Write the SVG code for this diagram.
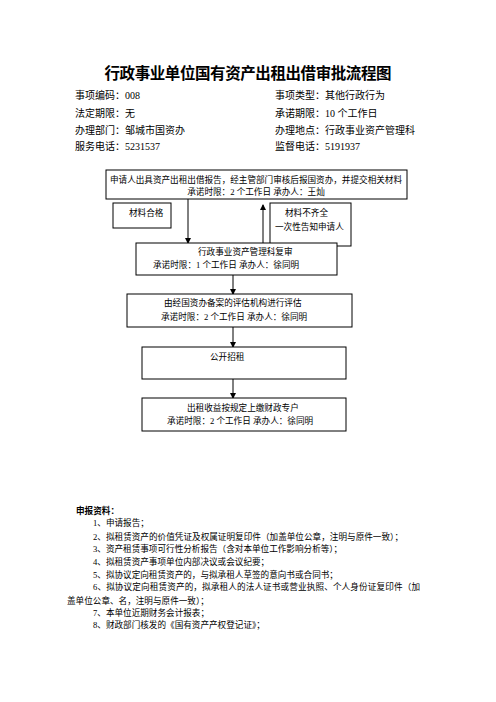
<svg xmlns="http://www.w3.org/2000/svg" width="496" height="702" viewBox="0 0 496 702">
<style>
text{font-family:"Liberation Serif","Noto Sans CJK SC",serif;fill:#000}
.t{font-size:15.5px;font-weight:bold}
.h{font-size:10px}
.b{font-size:8.6px}
.box{fill:#fff;stroke:#000;stroke-width:1}
.ln{stroke:#000;stroke-width:1;fill:none}
</style>
<defs>
<marker id="ah" markerWidth="6" markerHeight="6" refX="5" refY="3" orient="auto" markerUnits="userSpaceOnUse">
<path d="M0,0 L6,3 L0,6 Z" fill="#000"/>
</marker>
</defs>
<rect width="496" height="702" fill="#fff"/>
<g id="header">
<text class="t" x="248" y="79" text-anchor="middle" textLength="287">行政事业单位国有资产出租出借审批流程图</text>
<text class="h" x="75" y="99">事项编码：008</text>
<text class="h" x="275" y="99">事项类型：其他行政行为</text>
<text class="h" x="75" y="117">法定期限：无</text>
<text class="h" x="275" y="117">承诺期限：10 个工作日</text>
<text class="h" x="75" y="134">办理部门：邹城市国资办</text>
<text class="h" x="275" y="134">办理地点：行政事业资产管理科</text>
<text class="h" x="75" y="150">服务电话：5231537</text>
<text class="h" x="275" y="150">监督电话：5191937</text>
</g>
<g id="connectors">
<line class="ln" x1="188" y1="199" x2="188" y2="243" marker-end="url(#ah)"/>
<line class="ln" x1="263" y1="243" x2="263" y2="205" marker-end="url(#ah)"/>
<line class="ln" x1="233" y1="275" x2="233" y2="294" marker-end="url(#ah)"/>
<line class="ln" x1="233" y1="327" x2="233" y2="347" marker-end="url(#ah)"/>
<line class="ln" x1="233" y1="379" x2="233" y2="398" marker-end="url(#ah)"/>
</g>
<g id="n1">
<rect class="box" x="106" y="170" width="301" height="29"/>
<text class="b" x="256" y="183" text-anchor="middle" textLength="292">申请人出具资产出租出借报告，经主管部门审核后报国资办，并提交相关材料</text>
<text class="b" x="256" y="195" text-anchor="middle">承诺时限：2 个工作日  承办人：王灿</text>
</g>
<g id="n_ok">
<rect class="box" x="113" y="203" width="58" height="25"/>
<text class="b" x="129" y="216">材料合格</text>
</g>
<g id="n_bad">
<rect class="box" x="270" y="203" width="81" height="43"/>
<text class="b" x="285" y="216">材料不齐全</text>
<text class="b" x="275" y="230">一次性告知申请人</text>
</g>
<g id="n2">
<rect class="box" x="136" y="243" width="201" height="32"/>
<text class="b" x="198" y="255">行政事业资产管理科复审</text>
<text class="b" x="153" y="268">承诺时限：1 个工作日  承办人：徐同明</text>
</g>
<g id="n3">
<rect class="box" x="127" y="294" width="225" height="33"/>
<text class="b" x="164" y="306">由经国资办备案的评估机构进行评估</text>
<text class="b" x="161" y="320">承诺时限：2 个工作日  承办人：徐同明</text>
</g>
<g id="n4">
<rect class="box" x="142" y="347" width="204" height="32"/>
<text class="b" x="210" y="360">公开招租</text>
</g>
<g id="n5">
<rect class="box" x="142" y="398" width="204" height="33"/>
<text class="b" x="187" y="411">出租收益按规定上缴财政专户</text>
<text class="b" x="167" y="424">承诺时限：2 个工作日  承办人：徐同明</text>
</g>
<g id="materials">
<text class="b" x="76" y="514" font-weight="bold">申报资料：</text>
<text class="b" x="93" y="526">1、申请报告；</text>
<text class="b" x="93" y="540" textLength="310">2、拟租赁资产的价值凭证及权属证明复印件（加盖单位公章，注明与原件一致）；</text>
<text class="b" x="93" y="552">3、资产租赁事项可行性分析报告（含对本单位工作影响分析等）；</text>
<text class="b" x="93" y="565">4、拟租赁资产事项单位内部决议或会议纪要；</text>
<text class="b" x="93" y="578">5、拟协议定向租赁资产的，与拟承租人草签的意向书或合同书；</text>
<text class="b" x="93" y="590" textLength="327">6、拟协议定向租赁资产的，拟承租人的法人证书或营业执照、个人身份证复印件（加</text>
<text class="b" x="67" y="604">盖单位公章、名，注明与原件一致）；</text>
<text class="b" x="93" y="616">7、本单位近期财务会计报表；</text>
<text class="b" x="93" y="628">8、财政部门核发的《国有资产产权登记证》；</text>
</g>
</svg>
